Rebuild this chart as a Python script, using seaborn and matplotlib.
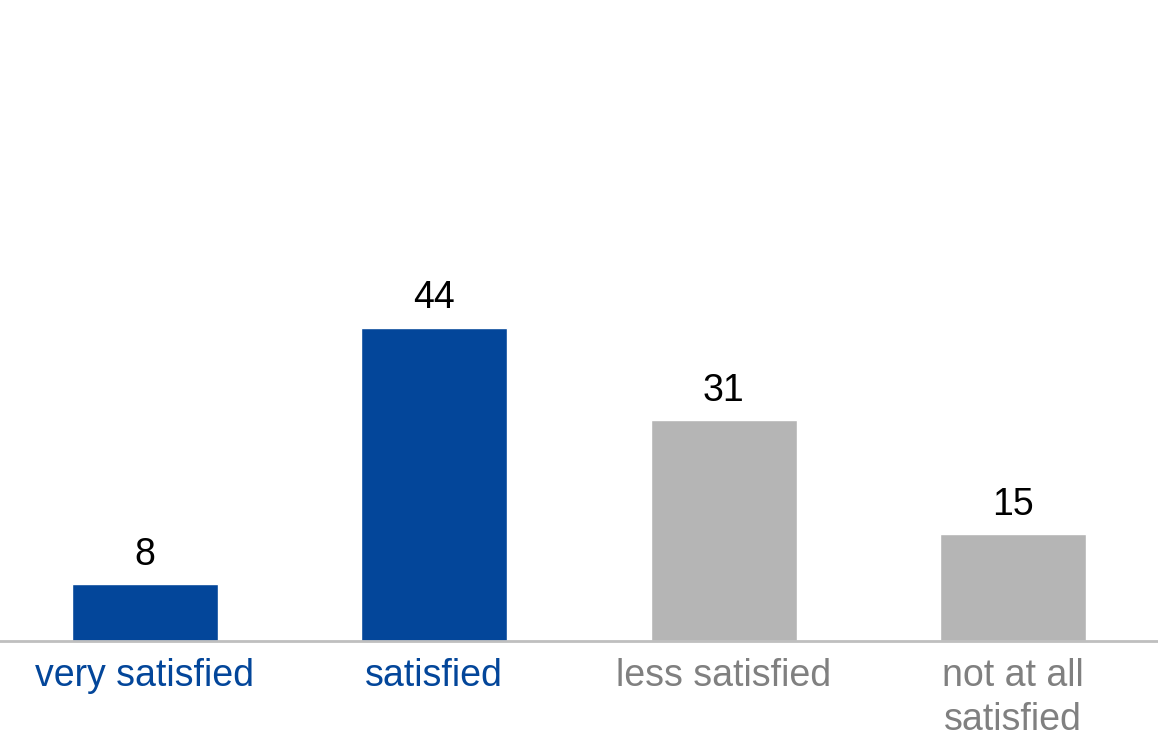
import matplotlib
matplotlib.use("Agg")
import matplotlib.pyplot as plt
import seaborn as sns
import pandas as pd

categories = ["very satisfied", "satisfied", "less satisfied", "not at all\nsatisfied"]
values = [8, 44, 31, 15]
bar_colors = ["#03469A", "#03469A", "#B5B5B5", "#B5B5B5"]
label_colors = ["#03469A", "#03469A", "#808080", "#808080"]

sns.set_theme(style="white")
plt.rcParams["font.family"] = ["Liberation Sans", "DejaVu Sans"]

df = pd.DataFrame({"cat": categories, "val": values})

fig = plt.figure(figsize=(11.58, 7.42), dpi=100)
ax = fig.add_axes([0, 1 - 641 / 742, 1, 641 / 742])
sns.barplot(data=df, x="cat", y="val", hue="cat", palette=bar_colors,
            width=0.505, legend=False, ax=ax, saturation=1)
ax.set_xlim(-0.5, 3.5)
ax.set_ylim(0, 90)
for i, v in enumerate(values):
    ax.text(i, v + 1.6, f"{v}", ha="center", va="bottom", fontsize=27, color="black")
ax.set_xlabel("")
ax.set_ylabel("")
ax.set_yticks([])
ax.tick_params(axis="x", length=0, pad=12, labelsize=27)
for lbl, c in zip(ax.get_xticklabels(), label_colors):
    lbl.set_color(c)
    lbl.set_linespacing(1.3)
for s in ["top", "right", "left"]:
    ax.spines[s].set_visible(False)
ax.spines["bottom"].set_color("#BFBFBF")
ax.spines["bottom"].set_linewidth(2)
fig.savefig("out.png", dpi=100)
